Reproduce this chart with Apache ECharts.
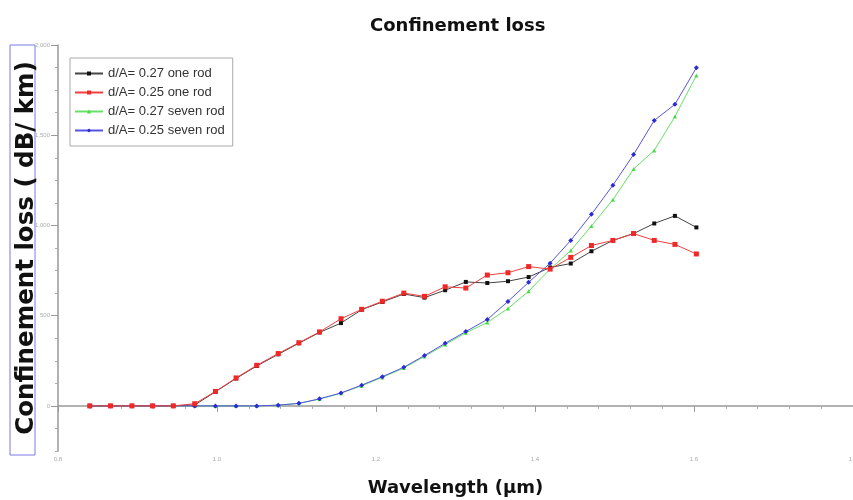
<!DOCTYPE html>
<html>
<head>
<meta charset="utf-8">
<script src="https://cdn.jsdelivr.net/npm/echarts@6/dist/echarts.min.js"></script>
<style>
  html, body { margin: 0; padding: 0; background: #fff; }
  #chart { width: 853px; height: 500px; }
</style>
</head>
<body>
<div id="chart"></div>
<script>
// Wavelength samples (µm)
const wavelength = [0.840, 0.866, 0.893, 0.919, 0.945, 0.972, 0.998, 1.024, 1.050, 1.077,
                    1.103, 1.129, 1.156, 1.182, 1.208, 1.235, 1.261, 1.287, 1.313, 1.340,
                    1.366, 1.392, 1.419, 1.445, 1.471, 1.498, 1.524, 1.550, 1.576, 1.603];

// Confinement loss (dB/km) for each fibre design
const lossOneRod027 = [0, 0, 0, 0, 0, 5, 78, 152, 221, 286,
                       347, 407, 459, 533, 576, 620, 600, 641, 687, 681,
                       691, 714, 767, 789, 857, 917, 955, 1011, 1053, 989];
const lossOneRod025 = [0, 0, 0, 0, 0, 12, 80, 155, 225, 290,
                       350, 410, 483, 535, 580, 625, 607, 660, 653, 725,
                       738, 772, 758, 823, 889, 917, 955, 917, 895, 842];
const lossSevenRod027 = [0, 0, 0, 0, 0, 0, 0, 0, 0, 4,
                         14, 38, 70, 112, 158, 210, 274, 340, 405, 462,
                         540, 635, 758, 861, 997, 1143, 1313, 1416, 1604, 1831];
const lossSevenRod025 = [0, 0, 0, 0, 0, 0, 0, 0, 0, 4,
                         14, 39, 72, 115, 162, 214, 279, 347, 412, 479,
                         579, 685, 791, 917, 1062, 1223, 1393, 1582, 1671, 1874];

const seriesNames = ['d/A= 0.27 one rod', 'd/A= 0.25 one rod', 'd/A= 0.27 seven rod', 'd/A= 0.25 seven rod'];
const yMajorTicks = [0, 500, 1000, 1500, 2000];

const pairs = (ys) => wavelength.map((x, i) => [x, ys[i]]);

const chart = echarts.init(document.getElementById('chart'), null, { renderer: 'canvas' });

const tickLabelStyle = { fontSize: 6, color: '#aaa', fontFamily: 'Liberation Sans' };

const option = {
  backgroundColor: '#fff',
  animation: false,
  title: {
    text: 'Confinement loss',
    left: 365,
    top: 12,
    textStyle: { fontFamily: 'DejaVu Sans', fontWeight: 'bold', fontSize: 18, color: '#111' }
  },
  graphic: [{
    type: 'rect',
    shape: { x: 10, y: 45, width: 25, height: 410 },
    style: { fill: 'none', stroke: '#7b7be6', lineWidth: 1 }
  }],
  legend: {
    orient: 'vertical',
    left: 70,
    top: 58,
    padding: [8, 8, 8, 4],
    itemGap: 4,
    itemWidth: 28,
    itemHeight: 5,
    borderColor: '#aaa',
    borderWidth: 1,
    backgroundColor: '#fff',
    textStyle: { fontFamily: 'Liberation Sans', fontSize: 13, color: '#333', lineHeight: 15 },
    data: seriesNames
  },
  grid: { left: 58, right: 0, top: 45, bottom: 49, outerBoundsMode: 'none', containLabel: false },
  xAxis: {
    type: 'value',
    min: 0.8,
    max: 1.8,
    interval: 0.2,
    name: 'Wavelength (µm)',
    nameLocation: 'middle',
    nameGap: 28,
    nameMoveOverlap: false,
    nameTextStyle: { fontFamily: 'DejaVu Sans', fontWeight: 'bold', fontSize: 18, color: '#111' },
    axisLine: { show: true, lineStyle: { color: '#999', width: 1.5 } },
    axisTick: { show: true, length: 6, lineStyle: { color: '#999' } },
    minorTick: { show: true, splitNumber: 5, length: 3, lineStyle: { color: '#aaa' } },
    axisLabel: Object.assign({ margin: 5, formatter: (v) => v.toFixed(1) }, tickLabelStyle),
    splitLine: { show: false }
  },
  yAxis: [{
    type: 'value',
    min: -250,
    max: 2000,
    interval: 125,
    name: 'Confinement loss ( dB/ km)',
    nameLocation: 'middle',
    nameGap: 19,
    nameMoveOverlap: false,
    nameTextStyle: { fontFamily: 'DejaVu Sans', fontWeight: 'bold', fontSize: 24.5, color: '#111' },
    axisLine: { show: true, lineStyle: { color: '#999', width: 1.5 } },
    axisTick: { show: true, length: 3, lineStyle: { color: '#aaa' } },
    axisLabel: Object.assign({ margin: 8, customValues: yMajorTicks }, tickLabelStyle),
    splitLine: { show: false }
  }, {
    // longer ticks at the labelled values
    type: 'value',
    position: 'left',
    min: -250,
    max: 2000,
    axisLine: { show: false },
    axisTick: { show: true, length: 7, customValues: yMajorTicks, lineStyle: { color: '#999' } },
    axisLabel: { show: false },
    splitLine: { show: false }
  }],
  series: [{
    name: seriesNames[0],
    type: 'line',
    data: pairs(lossOneRod027),
    symbol: 'rect',
    symbolSize: 4,
    itemStyle: { color: '#111' },
    lineStyle: { color: '#444', width: 1 },
    z: 3
  }, {
    name: seriesNames[1],
    type: 'line',
    data: pairs(lossOneRod025),
    symbol: 'rect',
    symbolSize: 5,
    itemStyle: { color: '#f02828' },
    lineStyle: { color: '#f04040', width: 1 },
    z: 4
  }, {
    name: seriesNames[2],
    type: 'line',
    data: pairs(lossSevenRod027),
    symbol: 'triangle',
    symbolSize: 4,
    itemStyle: { color: '#44dd44' },
    lineStyle: { color: '#66e066', width: 1 },
    z: 2
  }, {
    name: seriesNames[3],
    type: 'line',
    data: pairs(lossSevenRod025),
    symbol: 'diamond',
    symbolSize: 5,
    itemStyle: { color: '#2a2ad8' },
    lineStyle: { color: '#5555e0', width: 1 },
    z: 3
  }]
};

chart.setOption(option);
</script>
</body>
</html>
